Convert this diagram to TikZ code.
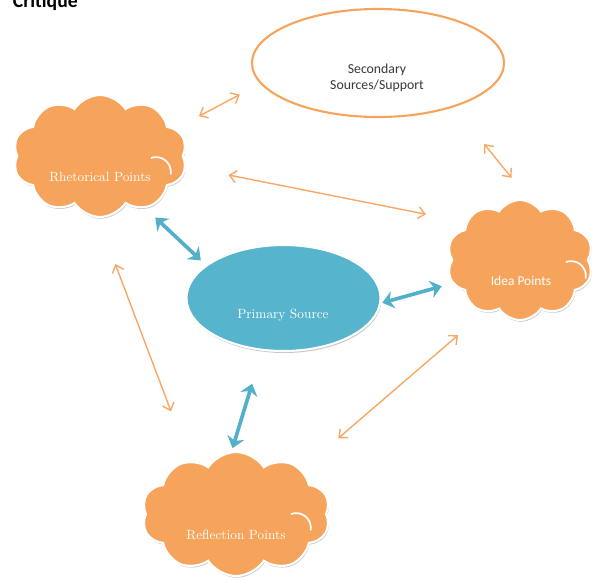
\documentclass[tikz,border=0pt]{standalone}
\usepackage{fontspec}
\newfontfamily\calibri{Carlito}
\usetikzlibrary{shapes.symbols,shapes.geometric,shadows,arrows.meta}

\definecolor{cloudorange}{HTML}{F6A45C}
\definecolor{linkorange}{HTML}{F8A866}
\definecolor{sourceblue}{HTML}{56B4CC}
\definecolor{linkblue}{HTML}{52B0C8}
\definecolor{darktext}{HTML}{3A3A3A}

\begin{document}
\begin{tikzpicture}[x=0.025cm,y=-0.025cm,
    pointcloud/.style={cloud, cloud puffs=10, cloud puff arc=115, cloud ignores aspect,
        fill=cloudorange, draw=white, line width=1.5pt, inner sep=0pt,
        drop shadow={shadow xshift=0.6pt,shadow yshift=-1.2pt,fill=black!45,opacity=0.5}},
    cloudtext/.style={text=white, font=\fontsize{9.5}{11}\selectfont},
    notch/.style={white, line width=1.2pt},
    thinlink/.style={linkorange, line width=1pt, {Straight Barb[length=1.7mm,width=3mm]}-{Straight Barb[length=1.7mm,width=3mm]}},
    thicklink/.style={linkblue, line width=2.6pt, {Stealth[length=2.8mm,width=4.4mm,inset=0.9mm]}-{Stealth[length=2.8mm,width=4.4mm,inset=0.9mm]}}]

% \draw[step=50,gray,very thin] (0,0) grid (594,581);
    \useasboundingbox (0,0) rectangle (594,581);

    \node (title) [anchor=base west,font=\calibri\bfseries\fontsize{14}{16}\selectfont] at (8,7.5) {Critique};

    \node (sec) [ellipse,draw=cloudorange,line width=1.5pt,fill=white,minimum width=6.3cm,minimum height=2.7cm] at (378,63) {};
    \node (sec_label) [align=center,text=darktext,font=\calibri\fontsize{9.8}{11.5}\selectfont] at (377,78) {Secondary\\Sources/Support};

    \node (prim) [ellipse,fill=sourceblue,draw=white,line width=1.5pt,minimum width=4.85cm,minimum height=2.65cm,
        drop shadow={shadow xshift=0.6pt,shadow yshift=-1.4pt,fill=black!45,opacity=0.5}] at (283.5,298) {};
    \node (prim_label) [cloudtext] at (283,315) {Primary Source};

    \node (rhet) [pointcloud,minimum width=4.35cm,minimum height=3.05cm] at (100,156) {};
    \node (rhet_label) [cloudtext] at (100,177) {Rhetorical Points};
    \draw[notch] ([shift={(51,2)}]rhet.center) arc[start angle=110,end angle=-10,radius=0.37cm];

    \node (idea) [pointcloud,minimum width=3.65cm,minimum height=3cm] at (520,260) {};
    \node (idea_label) [cloudtext,font=\calibri\fontsize{9.6}{11}\selectfont] at (521,281) {Idea Points};
    \draw[notch] ([shift={(46,2)}]idea.center) arc[start angle=110,end angle=-10,radius=0.37cm];

    \node (refl) [pointcloud,minimum width=4.7cm,minimum height=3.1cm] at (236,514) {};
    \node (refl_label) [cloudtext] at (236,535) {Reflection Points};
    \draw[notch] ([shift={(55,0)}]refl.center) arc[start angle=110,end angle=-10,radius=0.37cm];

    \draw[thinlink,shorten <=0.66cm,shorten >=0.58cm] (rhet.20) -- (sec.190);
    \draw[thinlink,shorten <=1.19cm,shorten >=0.75cm] (sec.330) -- (idea.80);
    \draw[thinlink,shorten <=1.08cm,shorten >=1.02cm] (rhet.353) -- (idea.145);
    \draw[thinlink,shorten <=1.23cm,shorten >=1.32cm] (rhet.268) -- (refl.131);
    \draw[thinlink,shorten <=0.88cm,shorten >=1.2cm] (idea.236) -- (refl.34);

    \draw[thicklink,shorten <=0.34cm,shorten >=0.17cm] (rhet.311) -- (prim.157);
    \draw[thicklink,shorten <=0.03cm,shorten >=0.27cm] (prim.357) -- (idea.199);
    \draw[thicklink,shorten <=0.86cm,shorten >=0.08cm] (prim.248) -- (refl.94);

\end{tikzpicture}
\end{document}
